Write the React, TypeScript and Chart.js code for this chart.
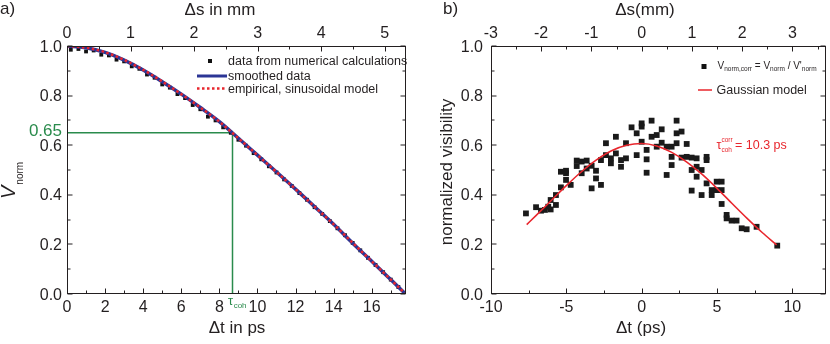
import { useEffect, useRef } from "react";
import { Chart, registerables } from "chart.js";

Chart.register(...registerables);

const FONT = '"Liberation Sans", Arial, Helvetica, sans-serif';
const INK = "#231f20";
const GREEN = "#2a8b4c";
const RED = "#e8262d";
const BLUE = "#2b3595";
const MM_PER_PS = 0.29979;

// ---------- panel a) ----------
const aTime = [0, 1, 2, 3, 4, 5, 6, 7, 8, 9, 10, 11, 12, 13, 14, 15, 16, 17, 17.78];
const aSmoothed = [1.0, 0.993, 0.974, 0.943, 0.903, 0.856, 0.806, 0.752, 0.695, 0.628, 0.56, 0.492, 0.423, 0.352, 0.281, 0.205, 0.132, 0.058, 0.0];
const aModel = [1.0, 0.993, 0.975, 0.944, 0.904, 0.857, 0.806, 0.752, 0.695, 0.628, 0.56, 0.492, 0.423, 0.352, 0.281, 0.206, 0.132, 0.058, 0.0];
const aDataTime = [0.2, 0.6, 1.0, 1.4, 1.8, 2.2, 2.6, 3.0, 3.4, 3.8, 4.2, 4.6, 5.0, 5.4, 5.8, 6.2, 6.6, 7.0, 7.4, 7.8, 8.2, 8.6, 9.0, 9.4, 9.8, 10.2, 10.6, 11.0, 11.4, 11.8, 12.2, 12.6, 13.0, 13.4, 13.8, 14.2, 14.6, 15.0, 15.4, 15.8, 16.2, 16.6, 17.0, 17.4, 17.7];
const aDataV = [0.985, 0.988, 0.978, 0.982, 0.965, 0.962, 0.945, 0.938, 0.918, 0.908, 0.885, 0.872, 0.845, 0.832, 0.806, 0.79, 0.762, 0.745, 0.715, 0.7, 0.672, 0.65, 0.622, 0.598, 0.568, 0.543, 0.515, 0.49, 0.462, 0.436, 0.407, 0.38, 0.35, 0.323, 0.294, 0.265, 0.237, 0.206, 0.176, 0.146, 0.117, 0.088, 0.058, 0.028, 0.004];
const aCohTime = 8.69;
const aCohV = 0.65;
const aTMin = 0;
const aTMax = 17.8;
const aBottomTicks = [0, 2, 4, 6, 8, 10, 12, 14, 16];
const aTopTicks = [0, 1, 2, 3, 4, 5];
const vTicks = [0, 0.2, 0.4, 0.6, 0.8, 1.0];
const vTickLabels = ["0.0", "0.2", "0.4", "0.6", "0.8", "1.0"];

// ---------- panel b) ----------
const bTime = [-7.68, -7.01, -6.68, -6.42, -6.2, -6.04, -6.04, -5.69, -5.69, -5.36,
  -5.36, -5.02, -5.02, -5.02, -4.71, -4.31, -4.31, -3.98, -3.98, -3.65,
  -3.65, -3.32, -3.32, -3.03, -3.03, -2.7, -2.7, -2.37, -2.37, -2.04,
  -2.04, -1.71, -1.71, -1.37, -1.37, -1.04, -1.04, -0.67, -0.33, -0.33,
  0.0, 0.0, 0.0, 0.33, 0.33, 0.33, 0.66, 0.66, 1.0, 1.0,
  1.33, 1.33, 1.66, 1.66, 1.99, 1.99, 1.99, 2.32, 2.32, 2.32,
  2.65, 2.65, 2.99, 2.99, 3.32, 3.32, 3.32, 3.65, 3.65, 3.65,
  3.98, 3.98, 4.31, 4.31, 4.31, 4.65, 4.65, 4.98, 4.98, 5.31,
  5.31, 5.31, 5.64, 5.64, 5.97, 6.3, 6.64, 6.97, 7.63, 9.0];
const bVis = [0.325, 0.35, 0.336, 0.339, 0.352, 0.379, 0.341, 0.359, 0.399, 0.43,
  0.493, 0.487, 0.46, 0.497, 0.44, 0.538, 0.516, 0.487, 0.534, 0.538,
  0.506, 0.426, 0.517, 0.497, 0.466, 0.44, 0.54, 0.56, 0.608, 0.527,
  0.547, 0.634, 0.567, 0.513, 0.54, 0.547, 0.608, 0.672, 0.648, 0.56,
  0.688, 0.675, 0.614, 0.581, 0.543, 0.489, 0.699, 0.634, 0.641, 0.594,
  0.664, 0.61, 0.594, 0.48, 0.594, 0.52, 0.553, 0.699, 0.648, 0.608,
  0.655, 0.55, 0.605, 0.553, 0.5, 0.417, 0.55, 0.547, 0.513, 0.473,
  0.5, 0.399, 0.553, 0.54, 0.446, 0.399, 0.419, 0.453, 0.419, 0.453,
  0.419, 0.363, 0.319, 0.305, 0.296, 0.296, 0.265, 0.261, 0.271, 0.195];
const bFitTime = [-7.63, -7, -6, -5, -4, -3, -2, -1, 0, 1, 2, 3, 4, 5, 6, 7, 8, 8.96];
const bFitVis = [0.28, 0.317, 0.377, 0.437, 0.493, 0.541, 0.578, 0.6, 0.607, 0.597, 0.571, 0.532, 0.483, 0.426, 0.365, 0.305, 0.248, 0.198];
const bTMin = -10;
const bTMax = 12.23;
const bBottomTicks = [-10, -5, 0, 5, 10];
const bTopTicks = [-3, -2, -1, 0, 1, 2, 3];

type Side = "bottom" | "top" | "left" | "right";
type AxisSpec = { scale: string; side: Side; major: number[]; minorStep: number; labels?: string[]; offset: number };

function pts(xs: number[], ys: number[]) {
  return xs.map((x, i) => ({ x, y: ys[i] }));
}

function drawAxes(chart: any, specs: AxisSpec[]) {
  const ctx: CanvasRenderingContext2D = chart.ctx;
  const a = chart.chartArea;
  ctx.save();
  ctx.strokeStyle = INK;
  ctx.lineWidth = 1;
  const L = Math.round(a.left) + 0.5, R = Math.round(a.right) - 0.5;
  const T = Math.round(a.top) + 0.5, B = Math.round(a.bottom) - 0.5;
  ctx.strokeRect(L, T, R - L, B - T);
  for (const sp of specs) {
    const s = chart.scales[sp.scale];
    const start = Math.ceil((s.min - 1e-6) / sp.minorStep);
    const end = Math.floor((s.max + 1e-6) / sp.minorStep);
    ctx.beginPath();
    for (let i = start; i <= end; i++) {
      const v = i * sp.minorStep;
      const isMajor = sp.major.some((m) => Math.abs(m - v) < 1e-6);
      const len = isMajor ? 5 : 3;
      const p = Math.round(s.getPixelForValue(v)) + 0.5;
      if (sp.side === "bottom") { ctx.moveTo(p, B); ctx.lineTo(p, B - len); }
      else if (sp.side === "top") { ctx.moveTo(p, T); ctx.lineTo(p, T + len); }
      else if (sp.side === "left") { ctx.moveTo(L, p - 0.5); ctx.lineTo(L + len, p - 0.5); }
      else { ctx.moveTo(R, p - 0.5); ctx.lineTo(R - len, p - 0.5); }
    }
    ctx.stroke();
    if (sp.labels) {
      ctx.fillStyle = INK;
      ctx.font = `16px ${FONT}`;
      ctx.textBaseline = "alphabetic";
      sp.major.forEach((v, i) => {
        const p = s.getPixelForValue(v);
        const txt = sp.labels![i];
        if (sp.side === "bottom") { ctx.textAlign = "center"; ctx.fillText(txt, p, a.bottom + sp.offset); }
        else if (sp.side === "top") { ctx.textAlign = "center"; ctx.fillText(txt, p, a.top - sp.offset); }
        else if (sp.side === "left") { ctx.textAlign = "right"; ctx.fillText(txt, a.left - sp.offset, p + 5.6); }
      });
    }
  }
  ctx.restore();
}

function text(ctx: CanvasRenderingContext2D, s: string, x: number, y: number, size: number, color = INK, align: CanvasTextAlign = "left", italic = false) {
  ctx.font = `${italic ? "italic " : ""}${size}px ${FONT}`;
  ctx.fillStyle = color;
  ctx.textAlign = align;
  ctx.textBaseline = "alphabetic";
  ctx.fillText(s, x, y);
  return ctx.measureText(s).width;
}

const overlayA = {
  id: "overlayA",
  afterDraw(chart: any) {
    const ctx: CanvasRenderingContext2D = chart.ctx;
    drawAxes(chart, [
      { scale: "x", side: "bottom", major: aBottomTicks, minorStep: 1, labels: aBottomTicks.map(String), offset: 18 },
      { scale: "x2", side: "top", major: aTopTicks, minorStep: 0.5, labels: aTopTicks.map(String), offset: 8 },
      { scale: "y", side: "left", major: vTicks, minorStep: 0.1, labels: vTickLabels, offset: 5 },
      { scale: "y", side: "right", major: vTicks, minorStep: 0.1, offset: 0 },
    ]);
    ctx.save();
    text(ctx, "a)", 0, 14, 17);
    text(ctx, "\u0394s in mm", 220, 15, 17, INK, "center");
    text(ctx, "\u0394t in ps", 237, 333, 17, INK, "center");
    // y title V_norm
    ctx.save();
    ctx.translate(15, 199);
    ctx.rotate(-Math.PI / 2);
    const vw = text(ctx, "V", 0, 0, 20, INK, "left", true);
    text(ctx, "norm", vw + 1, 8, 10);
    ctx.restore();
    // green annotations
    const yS = chart.scales.y, xS = chart.scales.x;
    text(ctx, "0.65", 62, yS.getPixelForValue(aCohV) + 3, 17, GREEN, "right");
    const tx = xS.getPixelForValue(aCohTime);
    const tw = text(ctx, "\u03c4", tx - 4.5, 305, 13, GREEN);
    text(ctx, "coh", tx - 4.5 + tw + 0.5, 308, 8, GREEN);
    // legend
    ctx.fillStyle = "#111";
    ctx.fillRect(208, 59, 4, 4);
    text(ctx, "data from numerical calculations", 228, 65, 12.5);
    ctx.strokeStyle = BLUE;
    ctx.lineWidth = 3;
    ctx.beginPath(); ctx.moveTo(197, 76); ctx.lineTo(227, 76); ctx.stroke();
    text(ctx, "smoothed data", 228, 80, 12.5);
    ctx.strokeStyle = RED;
    ctx.lineWidth = 2.5;
    ctx.setLineDash([2.5, 2.5]);
    ctx.beginPath(); ctx.moveTo(197, 88.5); ctx.lineTo(227, 88.5); ctx.stroke();
    ctx.setLineDash([]);
    text(ctx, "empirical, sinusoidal model", 228, 93, 12.5);
    ctx.restore();
  },
};

const overlayB = {
  id: "overlayB",
  afterDraw(chart: any) {
    const ctx: CanvasRenderingContext2D = chart.ctx;
    drawAxes(chart, [
      { scale: "x", side: "bottom", major: bBottomTicks, minorStep: 2.5, labels: bBottomTicks.map(String), offset: 18 },
      { scale: "x2", side: "top", major: bTopTicks, minorStep: 0.5, labels: bTopTicks.map(String), offset: 8 },
      { scale: "y", side: "left", major: vTicks, minorStep: 0.1, labels: vTickLabels, offset: 8 },
      { scale: "y", side: "right", major: vTicks, minorStep: 0.1, offset: 0 },
    ]);
    ctx.save();
    text(ctx, "b)", 28, 14, 17);
    text(ctx, "\u0394s(mm)", 230, 15, 17, INK, "center");
    text(ctx, "\u0394t (ps)", 226, 333, 17, INK, "center");
    ctx.save();
    ctx.translate(37, 172);
    ctx.rotate(-Math.PI / 2);
    text(ctx, "normalized visibility", 0, 0, 17, INK, "center");
    ctx.restore();
    // legend
    ctx.fillStyle = "#111";
    ctx.fillRect(286.5, 64, 5, 5);
    let x = 302.5;
    x += text(ctx, "V", x, 68.5, 10);
    x += text(ctx, "norm,corr", x, 71, 6.5);
    x += text(ctx, " = V", x, 68.5, 10);
    x += text(ctx, "norm", x, 71, 6.5);
    x += text(ctx, " / V'", x, 68.5, 10);
    text(ctx, "norm", x, 71, 6.5);
    ctx.strokeStyle = RED;
    ctx.lineWidth = 1.5;
    ctx.beginPath(); ctx.moveTo(283, 90); ctx.lineTo(297, 90); ctx.stroke();
    text(ctx, "Gaussian model", 301.5, 94, 12.5);
    // annotation
    const tw = text(ctx, "\u03c4", 301.5, 149, 12.5, RED);
    text(ctx, "corr", 301.5 + tw, 142, 6.5, RED);
    text(ctx, "coh", 301.5 + tw, 151.5, 6.5, RED);
    text(ctx, "= 10.3 ps", 320, 149, 12.5, RED);
    ctx.restore();
  },
};

function baseOptions(xMin: number, xMax: number, pad: { left: number; right: number; top: number; bottom: number }) {
  return {
    responsive: false,
    animation: false as const,
    devicePixelRatio: 1,
    layout: { padding: pad },
    plugins: { legend: { display: false }, tooltip: { enabled: false } },
    events: [] as any[],
    scales: {
      x: { type: "linear" as const, min: xMin, max: xMax, display: false },
      x2: { type: "linear" as const, axis: "x" as const, min: xMin * MM_PER_PS, max: xMax * MM_PER_PS, display: false },
      y: { type: "linear" as const, min: 0, max: 1, display: false },
    },
  };
}

export default function App() {
  const refA = useRef<HTMLCanvasElement>(null);
  const refB = useRef<HTMLCanvasElement>(null);

  useEffect(() => {
    document.body.style.margin = "0";
    const chartA = new Chart(refA.current!, {
      type: "scatter",
      data: {
        datasets: [
          { data: pts(aTime, aModel), showLine: true, borderColor: RED, borderWidth: 2.5, borderDash: [2.5, 2.5], pointRadius: 0, cubicInterpolationMode: "monotone" } as any,
          { data: pts(aTime, aSmoothed), showLine: true, borderColor: BLUE, borderWidth: 3.5, pointRadius: 0, cubicInterpolationMode: "monotone" } as any,
          { data: pts(aDataTime, aDataV), pointStyle: "rect", pointRadius: 2.7, backgroundColor: "#111", borderWidth: 0 } as any,
          { data: [{ x: aTMin, y: aCohV }, { x: aCohTime, y: aCohV }, { x: aCohTime, y: 0 }], showLine: true, borderColor: GREEN, borderWidth: 1.5, pointRadius: 0, tension: 0 } as any,
        ],
      },
      options: baseOptions(aTMin, aTMax, { left: 67, right: 9, top: 46, bottom: 50 }) as any,
      plugins: [overlayA],
    });
    const chartB = new Chart(refB.current!, {
      type: "scatter",
      data: {
        datasets: [
          { data: pts(bFitTime, bFitVis), showLine: true, borderColor: RED, borderWidth: 1.6, pointRadius: 0, cubicInterpolationMode: "monotone" } as any,
          { data: pts(bTime, bVis), pointStyle: "rect", pointRadius: 4.1, backgroundColor: "#1a1a1a", borderWidth: 0 } as any,
        ],
      },
      options: baseOptions(bTMin, bTMax, { left: 76, right: 4, top: 46, bottom: 50 }) as any,
      plugins: [overlayB],
    });
    return () => {
      chartA.destroy();
      chartB.destroy();
    };
  }, []);

  return (
    <div style={{ position: "relative", width: 830, height: 344, background: "#fff" }}>
      <canvas ref={refA} width={415} height={344} style={{ position: "absolute", left: 0, top: 0 }} />
      <canvas ref={refB} width={415} height={344} style={{ position: "absolute", left: 415, top: 0 }} />
    </div>
  );
}
